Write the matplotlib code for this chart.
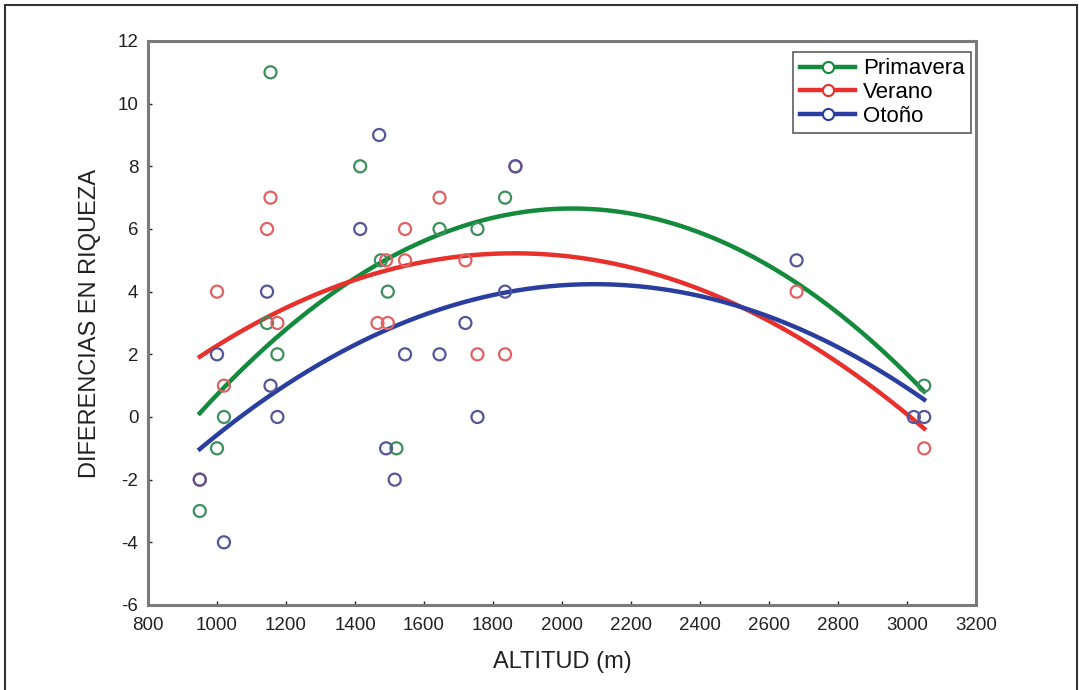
# import lib
import numpy as np
import matplotlib.pyplot as plt
from matplotlib.patches import Rectangle

plt.rcParams['font.family'] = ['Liberation Sans', 'DejaVu Sans']
plt.rcParams['axes.unicode_minus'] = False

# data (altitude in m, difference in richness)
prim_alt = [1155, 1415, 1645, 1755, 1835, 1475, 1495, 1145, 1175, 1020, 1000, 950, 1520, 3050]
prim_val = [11, 8, 6, 6, 7, 5, 4, 3, 2, 0, -1, -3, -1, 1]

# two red points lie hidden under blue ones (950 and 1865)
ver_alt = [1155, 1145, 1000, 1175, 1020, 1645, 1545, 1490, 1545, 1720, 1465, 1495, 1755, 1835, 2680, 3050, 950, 1865]
ver_val = [7, 6, 4, 3, 1, 7, 6, 5, 5, 5, 3, 3, 2, 2, 4, -1, -2, 8]

oto_alt = [1470, 1865, 1415, 1145, 1835, 1720, 1545, 1645, 1000, 1155, 1175, 950, 1020, 1490, 1515, 1755, 2680, 3020, 3050]
oto_val = [9, 8, 6, 4, 4, 3, 2, 2, 2, 1, 0, -2, -4, -1, -2, 0, 5, 0, 0]

series = ['Primavera', 'Verano', 'Otoño']
line_col = ['#138a3c', '#e8302c', '#2a3ea0']
mark_col = ['#3d8f5c', '#e06262', '#55559a']

xticks = list(range(800, 3201, 200))
yticks = list(range(-6, 13, 2))

#############################################################################
fig = plt.figure(figsize=(10.79, 6.90), dpi=100)
ax = fig.add_axes([0.1372, 0.1232, 0.7673, 0.8174])

alts = [prim_alt, ver_alt, oto_alt]
vals = [prim_val, ver_val, oto_val]

# draw in reverse so the blue circles sit on top
for name, a, v, lc, mc in list(zip(series, alts, vals, line_col, mark_col)):
    a = np.array(a, dtype=float)
    v = np.array(v, dtype=float)
    # quadratic fit of each season
    coef = np.polyfit(a, v, 2)
    xs = np.linspace(a.min(), a.max(), 200)
    ax.plot(xs, np.polyval(coef, xs), color=lc, lw=3.2, zorder=2)
    ax.scatter(a, v, s=75, facecolors='none', edgecolors=mc, linewidths=1.6, zorder=3)
    # legend handle
    ax.plot([], [], color=lc, lw=3.2, marker='o', markersize=8,
            markerfacecolor='white', markeredgecolor=lc, markeredgewidth=1.5, label=name)

ax.set_xlim(800, 3200)
ax.set_ylim(-6, 12)
ax.set_xticks(xticks)
ax.set_yticks(yticks)
ax.tick_params(direction='in', length=3, width=1, colors='#222222', labelsize=13.5)
ax.tick_params(axis='x', pad=9)
ax.tick_params(axis='y', pad=7)
for sp in ax.spines.values():
    sp.set_color('#7a7a7a')
    sp.set_linewidth(2.2)

ax.set_xlabel('ALTITUD (m)', fontsize=17, color='#222222', labelpad=12)
ax.set_ylabel('DIFERENCIAS EN RIQUEZA', fontsize=17, color='#222222', labelpad=12)

leg = ax.legend(loc='upper right', bbox_to_anchor=(0.9945, 0.981), fontsize=16,
                frameon=True, fancybox=False, handlelength=2.5, handletextpad=0.35,
                labelspacing=0.12, borderpad=0.3, borderaxespad=0)
leg.get_frame().set_edgecolor('#333333')
leg.get_frame().set_linewidth(1.2)

# outer frame round the whole picture
fig.patches.append(Rectangle((5 / 1079, -0.05), 1072 / 1079, 0.05 + 685 / 690,
                             transform=fig.transFigure, fill=False,
                             edgecolor='#333333', lw=1.5))

plt.savefig('out.png', dpi=100)
